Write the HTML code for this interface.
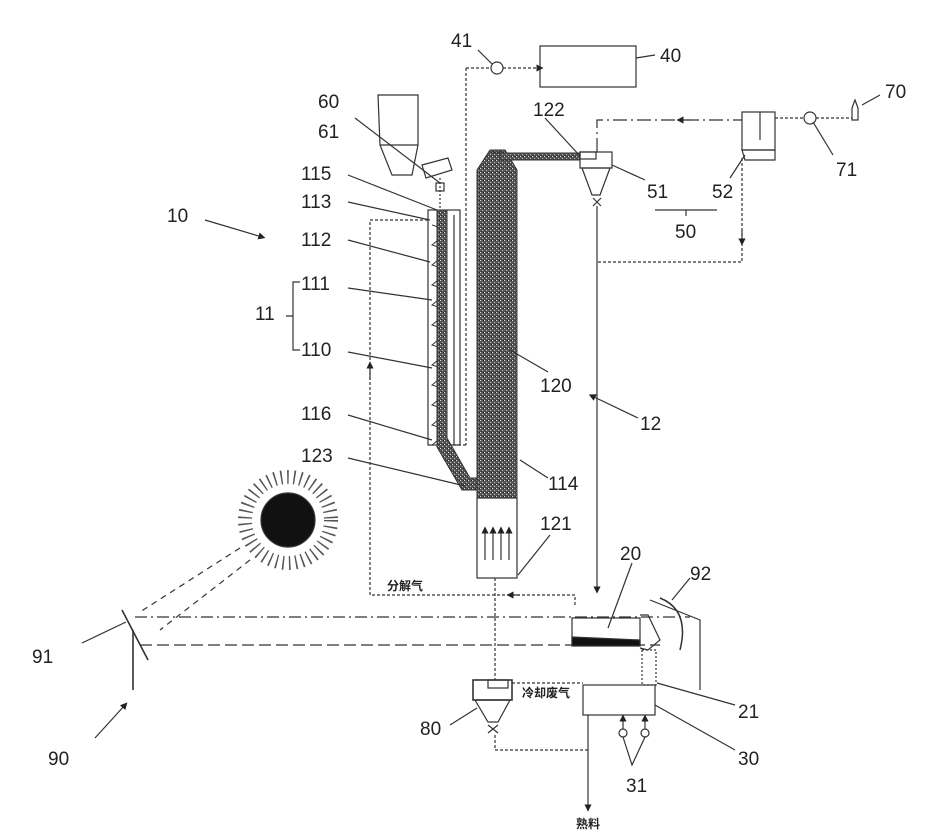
<!DOCTYPE html>
<html><head><meta charset="utf-8"><style>
html,body{margin:0;padding:0;background:#fff;}
svg{display:block;}
text{font-family:"Liberation Sans","Noto Sans CJK SC",sans-serif;fill:#222;}
.l{font-size:19px;}
.c{font-size:12px;font-weight:bold;}
</style></head><body>
<svg width="929" height="840" viewBox="0 0 929 840" xmlns="http://www.w3.org/2000/svg">
<defs>
<pattern id="sp" width="4" height="4" patternUnits="userSpaceOnUse">
<rect width="4" height="4" fill="#555"/><rect x="0" y="0" width="1" height="1" fill="#ddd"/><rect x="2" y="2" width="1" height="1" fill="#bbb"/><rect x="3" y="0" width="1" height="1" fill="#222"/><rect x="1" y="3" width="1" height="1" fill="#333"/>
</pattern>
<marker id="a" markerWidth="6" markerHeight="6" refX="3" refY="3" orient="auto"><path d="M0,0 L6,3 L0,6z" fill="#222"/></marker>
</defs>
<g stroke="#333" stroke-width="1.2" fill="none">
<rect x="540" y="46" width="96" height="41"/>
<circle cx="497" cy="68" r="6"/>
<line x1="466" y1="68" x2="491" y2="68" stroke-dasharray="3,2"/>
<line x1="503" y1="68" x2="540" y2="68" stroke-dasharray="3,2" marker-end="url(#a)"/>
<line x1="466" y1="68" x2="466" y2="445" stroke-dasharray="3,2"/>
<line x1="466" y1="445" x2="450" y2="445" stroke-dasharray="3,2"/>
<path d="M378,95 L418,95 L418,145 L412,175 L392,175 L380,145 Z"/>
<line x1="380" y1="145" x2="418" y2="145"/>
<path d="M422,165 L448,158 L452,170 L426,178 Z"/>
<line x1="440" y1="178" x2="440" y2="210" stroke-dasharray="2,2"/>
<rect x="436" y="183" width="8" height="8"/>
<rect x="428" y="210" width="32" height="235"/>
<line x1="454" y1="215" x2="454" y2="445"/>
<path d="M432,225 q20,5 0,20 q20,5 0,20 q20,5 0,20 q20,5 0,20 q20,5 0,20 q20,5 0,20 q20,5 0,20 q20,5 0,20 q20,5 0,20 q20,5 0,20 q20,5 0,20" stroke-width="1"/>
<polyline points="428,220 370,220 370,595 575,595 575,605" stroke-dasharray="3,2"/>
<line x1="370" y1="380" x2="370" y2="365" marker-end="url(#a)"/>
<line x1="520" y1="595" x2="510" y2="595" marker-end="url(#a)"/>
</g>
<path d="M437,210 L447,210 L447,438 L470,478 L477,478 L477,490 L462,490 L437,447 Z" fill="url(#sp)" stroke="#333"/>
<path d="M477,170 L490,150 L505,150 L517,170 L517,498 L477,498 Z" fill="url(#sp)" stroke="#333"/>
<path d="M493,150 L493,153 L580,153 L580,160 L500,160 L500,150 Z" fill="url(#sp)" stroke="#333"/>
<g stroke="#333" stroke-width="1.2" fill="none">
<rect x="477" y="498" width="40" height="80"/>
<line x1="485" y1="560" x2="485" y2="530" marker-end="url(#a)"/>
<line x1="493" y1="560" x2="493" y2="530" marker-end="url(#a)"/>
<line x1="501" y1="560" x2="501" y2="530" marker-end="url(#a)"/>
<line x1="509" y1="560" x2="509" y2="530" marker-end="url(#a)"/>
<rect x="580" y="152" width="32" height="16"/>
<rect x="580" y="152" width="16" height="7"/>
<path d="M582,168 L610,168 L600,195 L592,195 Z"/>
<path d="M593,198 L601,206 M601,198 L593,206"/>
<line x1="597" y1="206" x2="597" y2="590" marker-end="url(#a)"/>
<polyline points="597,152 597,120 742,120" stroke-dasharray="14,4,2,4"/>
<line x1="690" y1="120" x2="680" y2="120" marker-end="url(#a)"/>
<rect x="742" y="112" width="33" height="38"/>
<line x1="760" y1="112" x2="760" y2="140"/>
<path d="M742,150 L775,150 L775,160 L745,160 Z"/>
<polyline points="742,158 742,262 597,262" stroke-dasharray="3,2"/>
<line x1="742" y1="230" x2="742" y2="242" marker-end="url(#a)"/>
<line x1="775" y1="118" x2="804" y2="118" stroke-dasharray="3,2"/>
<circle cx="810" cy="118" r="6"/>
<line x1="816" y1="118" x2="852" y2="118" stroke-dasharray="3,2"/>
<path d="M852,120 L852,108 L855,100 L858,108 L858,120 Z"/>
<line x1="655" y1="210" x2="717" y2="210"/><line x1="686" y1="210" x2="686" y2="216"/>
<circle cx="288" cy="520" r="27" fill="#111"/>
<circle cx="288" cy="520" r="43" stroke-dasharray="1.5,5" stroke-width="14" stroke="#555"/>
<line x1="240" y1="548" x2="140" y2="612" stroke-dasharray="6,5"/>
<line x1="250" y1="560" x2="160" y2="630" stroke-dasharray="6,5"/>
<line x1="122" y1="610" x2="148" y2="660" stroke-width="1.6"/>
<line x1="133" y1="630" x2="133" y2="690" stroke-width="1.6"/>
<line x1="135" y1="617" x2="690" y2="617" stroke-dasharray="12,4,2,4"/>
<line x1="140" y1="645" x2="660" y2="645" stroke-dasharray="12,5"/>
<rect x="572" y="618" width="68" height="27"/>
<path d="M572,637 L640,640 L640,646 L572,646 Z" fill="#111"/>
<path d="M640,615 L648,615 L660,640 L648,650 L640,648"/>
<path d="M660,598 Q690,610 680,650" stroke-width="1.5"/>
<path d="M650,600 L700,620 L700,690"/>
<rect x="642" y="650" width="14" height="35" stroke-dasharray="2,2"/>
<rect x="583" y="685" width="72" height="30"/>
<line x1="588" y1="715" x2="588" y2="808" marker-end="url(#a)"/>
<circle cx="623" cy="733" r="4"/><circle cx="645" cy="733" r="4"/>
<line x1="623" y1="729" x2="623" y2="718" marker-end="url(#a)"/>
<line x1="645" y1="729" x2="645" y2="718" marker-end="url(#a)"/>
<polyline points="623,737 632,765 645,737"/>
<line x1="495" y1="578" x2="495" y2="680" stroke-dasharray="3,2"/>
<rect x="473" y="680" width="39" height="20" stroke-width="1.6"/>
<rect x="488" y="680" width="20" height="8"/>
<path d="M475,700 L510,700 L498,722 L488,722 Z"/>
<path d="M488,725 L498,733 M498,725 L488,733"/>
<polyline points="495,735 495,750 588,750" stroke-dasharray="3,2"/>
<line x1="512" y1="683" x2="583" y2="683" stroke-dasharray="3,2"/>
<line x1="478" y1="50" x2="492" y2="64"/>
<line x1="636" y1="58" x2="655" y2="55"/>
<line x1="862" y1="105" x2="880" y2="95"/>
<line x1="813" y1="122" x2="833" y2="155"/>
<line x1="355" y1="118" x2="440" y2="183"/>
<line x1="545" y1="118" x2="580" y2="156"/>
<line x1="612" y1="165" x2="645" y2="180"/>
<line x1="745" y1="155" x2="730" y2="178"/>
<line x1="348" y1="175" x2="437" y2="210"/>
<line x1="348" y1="202" x2="430" y2="220"/>
<line x1="348" y1="240" x2="430" y2="262"/>
<line x1="348" y1="288" x2="432" y2="300"/>
<line x1="348" y1="352" x2="432" y2="368"/>
<line x1="348" y1="415" x2="432" y2="440"/>
<line x1="348" y1="458" x2="465" y2="486"/>
<line x1="510" y1="350" x2="548" y2="372"/>
<line x1="520" y1="460" x2="548" y2="478"/>
<line x1="518" y1="575" x2="550" y2="535"/>
<line x1="608" y1="628" x2="632" y2="563"/>
<line x1="672" y1="600" x2="690" y2="578"/>
<line x1="82" y1="643" x2="126" y2="622"/>
<line x1="657" y1="683" x2="735" y2="705"/>
<line x1="655" y1="705" x2="735" y2="750"/>
<line x1="450" y1="725" x2="477" y2="708"/>
</g>
<line x1="638" y1="418" x2="592" y2="396" stroke="#333" stroke-width="1.2" marker-end="url(#a)"/>
<line x1="205" y1="220" x2="262" y2="237" stroke="#333" stroke-width="1.2" marker-end="url(#a)"/>
<line x1="95" y1="738" x2="125" y2="705" stroke="#333" stroke-width="1.2" marker-end="url(#a)"/>
<path d="M300,282 L293,282 L293,350 L300,350 M286,316 L293,316" stroke="#333" fill="none" stroke-width="1.2"/>
<g class="l">
<text x="451" y="47">41</text><text x="660" y="62">40</text><text x="885" y="98">70</text>
<text x="318" y="108">60</text><text x="533" y="116">122</text><text x="318" y="138">61</text>
<text x="836" y="176">71</text><text x="301" y="180">115</text><text x="301" y="208">113</text>
<text x="647" y="198">51</text><text x="712" y="198">52</text><text x="167" y="222">10</text>
<text x="675" y="238">50</text><text x="301" y="246">112</text><text x="301" y="290">111</text>
<text x="255" y="320">11</text><text x="301" y="356">110</text><text x="540" y="392">120</text>
<text x="640" y="430">12</text><text x="301" y="420">116</text><text x="301" y="462">123</text>
<text x="548" y="490">114</text><text x="540" y="530">121</text><text x="620" y="560">20</text>
<text x="690" y="580">92</text><text x="32" y="663">91</text><text x="738" y="718">21</text>
<text x="420" y="735">80</text><text x="738" y="765">30</text><text x="48" y="765">90</text>
<text x="626" y="792">31</text>
</g>
<g class="c"><text x="387" y="590">分解气</text><text x="522" y="697">冷却废气</text><text x="576" y="828">熟料</text></g>
</svg>
</body></html>
